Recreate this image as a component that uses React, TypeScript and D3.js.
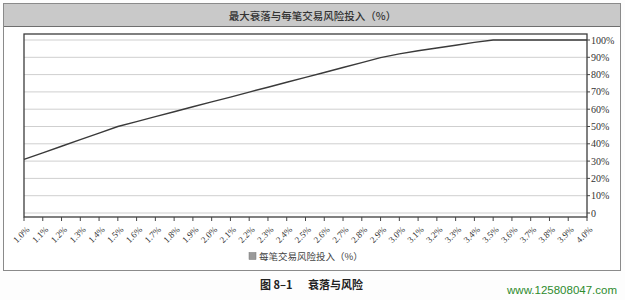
import React from "react";
import * as d3 from "d3";

// Risk per trade (%) categories
const riskLabels = [
  "1.0%", "1.1%", "1.2%", "1.3%", "1.4%", "1.5%", "1.6%", "1.7%", "1.8%", "1.9%",
  "2.0%", "2.1%", "2.2%", "2.3%", "2.4%", "2.5%", "2.6%", "2.7%", "2.8%", "2.9%",
  "3.0%", "3.1%", "3.2%", "3.3%", "3.4%", "3.5%", "3.6%", "3.7%", "3.8%", "3.9%", "4.0%",
];

// Maximum drawdown (%) for each risk level
const drawdownValues = [
  31, 34.8, 38.6, 42.4, 46.2, 50, 52.8, 55.7, 58.5, 61.4,
  64.2, 67.0, 69.9, 72.7, 75.6, 78.4, 81.2, 84.1, 86.9, 89.8,
  92.0, 93.8, 95.4, 97.0, 98.6, 100, 100, 100, 100, 100, 100,
];

const yTicks = [0, 10, 20, 30, 40, 50, 60, 70, 80, 90, 100];
const yTickLabels = ["0", "10%", "20%", "30%", "40%", "50%", "60%", "70%", "80%", "90%", "100%"];

const chartTitle = "最大衰落与每笔交易风险投入（%）";
const legendLabel = "每笔交易风险投入（%）";
const figureNo = "图 8–1";
const figureCaption = "衰落与风险";
const siteText = "www.125808047.com";

const W = 625;
const H = 300;
const plot = { left: 24, right: 587, top: 34, bottom: 217 };

const serif = "'Liberation Serif', 'DejaVu Serif', serif";
const cjk = "'Noto Sans CJK SC', 'Noto Sans', sans-serif";

export default function App() {
  const x = d3.scalePoint<string>().domain(riskLabels).range([plot.left, plot.right]);
  const y = d3.scaleLinear().domain([0, 100]).range([213, 40]);

  const line = d3
    .line<number>()
    .x((_, i) => x(riskLabels[i]) as number)
    .y((d) => y(d));

  return (
    <div style={{ position: "fixed", left: 0, top: 0, width: W, height: H, background: "#fff" }}>
      <svg width={W} height={H} style={{ display: "block" }}>
        <rect x={0} y={0} width={W} height={H} fill="#fdfdfd" />
        {/* outer frame */}
        <rect x={3.5} y={3.5} width={617} height={267} fill="#fff" stroke="#8a8a8a" strokeWidth={1} />
        {/* title band */}
        <rect x={4} y={4} width={616} height={22} fill="#c9c9c9" />
        <line x1={4} x2={620} y1={26.5} y2={26.5} stroke="#6e6e6e" strokeWidth={1} />
        <text
          x={W / 2}
          y={15}
          textAnchor="middle"
          dominantBaseline="central"
          fontFamily={cjk}
          fontSize={10.5}
          fontWeight={500}
          fill="#333"
        >
          {chartTitle}
        </text>

        {/* horizontal gridlines */}
        {yTicks.map((t) => (
          <line
            key={`g${t}`}
            x1={plot.left}
            x2={plot.right}
            y1={y(t)}
            y2={y(t)}
            stroke="#cfcfcf"
            strokeWidth={1}
          />
        ))}

        {/* plot frame */}
        <rect
          x={plot.left}
          y={plot.top}
          width={plot.right - plot.left}
          height={plot.bottom - plot.top}
          fill="none"
          stroke="#3c3c3c"
          strokeWidth={1.3}
        />

        {/* drawdown line */}
        <path d={line(drawdownValues) ?? ""} fill="none" stroke="#3a3a3a" strokeWidth={1.4} />

        {/* right y axis */}
        {yTicks.map((t, i) => (
          <g key={`y${t}`}>
            <line x1={plot.right} x2={plot.right + 3} y1={y(t)} y2={y(t)} stroke="#444" />
            <text
              x={plot.right + 4}
              y={y(t)}
              dominantBaseline="central"
              fontFamily={serif}
              fontSize={10}
              fill="#333"
            >
              {yTickLabels[i]}
            </text>
          </g>
        ))}

        {/* x axis ticks and rotated labels */}
        {riskLabels.map((c) => {
          const px = x(c) as number;
          return (
            <g key={c}>
              <line x1={px} x2={px} y1={plot.bottom} y2={plot.bottom + 4} stroke="#444" />
              <text
                transform={`translate(${px + 4},${plot.bottom + 11}) rotate(-45)`}
                textAnchor="end"
                dominantBaseline="central"
                fontFamily={serif}
                fontSize={9}
                fill="#333"
              >
                {c}
              </text>
            </g>
          );
        })}

        {/* legend */}
        <g transform="translate(249,256)">
          <rect x={0} y={-3.5} width={7} height={7} fill="#9a9a9a" stroke="#777" strokeWidth={0.5} />
          <text x={10} y={0} dominantBaseline="central" fontFamily={cjk} fontSize={9.5} fill="#444">
            {legendLabel}
          </text>
        </g>

        {/* figure caption */}
        <text x={260} y={284} dominantBaseline="central" fontFamily={cjk} fontSize={11} fontWeight={600} fill="#222">
          {figureNo}
        </text>
        <text x={308} y={284} dominantBaseline="central" fontFamily={cjk} fontSize={11} fontWeight={600} fill="#222">
          {figureCaption}
        </text>

        <text x={617} y={290} textAnchor="end" dominantBaseline="central" fontFamily="'Liberation Sans', Arial, sans-serif" fontSize={11.5} fill="#2e8b2e">
          {siteText}
        </text>
      </svg>
    </div>
  );
}
